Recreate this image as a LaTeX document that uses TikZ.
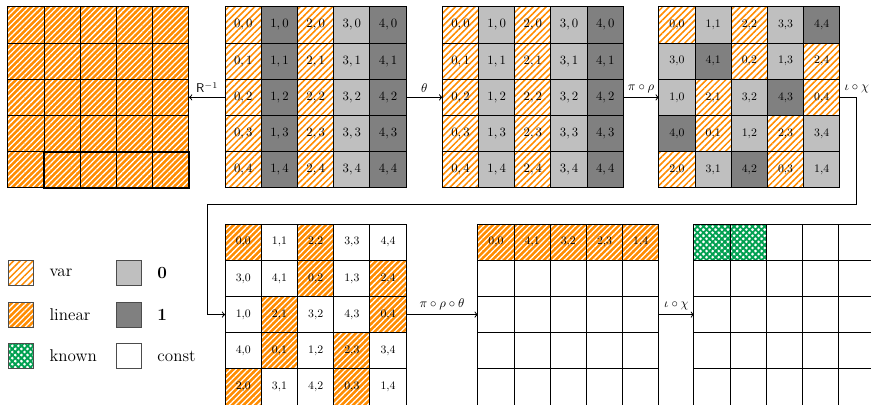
\documentclass[tikz,border=0pt]{standalone}
\usepackage{amsmath,amssymb}
\usetikzlibrary{patterns.meta,positioning,calc}

\definecolor{hatchorange}{RGB}{255,140,0}
\definecolor{knowngreen}{RGB}{0,160,80}

\tikzset{
  varcell/.style={preaction={fill=white},pattern={Lines[angle=45,distance=3.6pt,line width=1.2pt]},pattern color=hatchorange},
  lincell/.style={preaction={fill=hatchorange},pattern={Lines[angle=45,distance=3.2pt,line width=1pt]},pattern color=white},
  knowncell/.style={preaction={fill=white},preaction={pattern={Lines[angle=45,distance=3.4pt,line width=1.5pt]},pattern color=knowngreen},pattern={Lines[angle=-45,distance=3.4pt,line width=1.5pt]},pattern color=knowngreen},
  zerocell/.style={fill=gray!50},
  onecell/.style={fill=gray},
  constcell/.style={fill=white},
  gridbox/.style={minimum size=5cm,inner sep=0pt,outer sep=0pt},
  legbox/.style={draw=black!70,minimum size=.69cm,inner sep=0pt},
  legtext/.style={font=\fontsize{13.4}{16}\selectfont}
}

\begin{document}
\begin{tikzpicture}[thick]
    \useasboundingbox (0,0) rectangle (24.06,-11.16);
    \clip (0,0) rectangle (24.06,-11.16);

    \node[gridbox] (g1) at (2.72,-2.69) {};
    \node[gridbox] (g2) at (8.72,-2.69) {};
    \node[gridbox] (g3) at (14.72,-2.69) {};
    \node[gridbox] (g4) at (20.7,-2.69) {};
    \node[gridbox] (g5) at (8.72,-8.69) {};
    \node[gridbox] (g6) at (15.7,-8.69) {};
    \node[gridbox] (g7) at (21.67,-8.69) {};

    % state
    \foreach \c in {0,...,4} \foreach \r in {0,...,4}
      \draw[lincell] (0.22+\c,-0.19-\r) rectangle ++(1,-1);
    \draw[line width=1.6pt] (1.22,-4.19) rectangle (5.22,-5.19);

    \foreach \c/\s in {0/varcell,1/onecell,2/varcell,3/zerocell,4/onecell}
      \foreach \r in {0,...,4} {
        \draw[\s] (6.22+\c,-0.19-\r) rectangle ++(1,-1);
        \node (b\c\r) at (6.72+\c,-0.69-\r) {$\c,\r$};
      }

    \foreach \c/\s in {0/varcell,1/zerocell,2/varcell,3/zerocell,4/onecell}
      \foreach \r in {0,...,4} {
        \draw[\s] (12.22+\c,-0.19-\r) rectangle ++(1,-1);
        \node (t\c\r) at (12.72+\c,-0.69-\r) {$\c,\r$};
      }

    \foreach \c in {0,...,4} \foreach \r in {0,...,4} {
      \pgfmathtruncatemacro\a{mod(\c+3*\r,5)}
      \ifnum\a=4 \def\s{onecell}\else\ifodd\a\relax\def\s{zerocell}\else\def\s{varcell}\fi\fi
      \draw[\s] (18.2+\c,-0.19-\r) rectangle ++(1,-1);
      \node (p\c\r) at (18.7+\c,-0.69-\r) {\small\a,\c};
    }

    \foreach \c in {0,...,4} \foreach \r in {0,...,4} {
      \pgfmathtruncatemacro\a{mod(\c+3*\r,5)}
      \ifnum\a=4 \def\s{constcell}\else\ifodd\a\relax\def\s{constcell}\else\def\s{lincell}\fi\fi
      \draw[\s] (6.22+\c,-6.19-\r) rectangle ++(1,-1);
      \node (q\c\r) at (6.72+\c,-6.69-\r) {\small\a,\c};
    }

    \foreach \c in {0,...,4} {
      \pgfmathtruncatemacro\a{mod(5-\c,5)}
      \draw[lincell] (13.2+\c,-6.19) rectangle ++(1,-1);
      \node (x\c) at (13.7+\c,-6.69) {\small\a,\c};
      \foreach \r in {1,...,4}
        \draw[constcell] (13.2+\c,-6.19-\r) rectangle ++(1,-1);
    }

    \foreach \c in {0,...,4} \foreach \r in {0,...,4}
      \draw[constcell] (19.17+\c,-6.19-\r) rectangle ++(1,-1);
    \draw[knowncell] (19.17,-6.19) rectangle ++(1,-1);
    \draw[knowncell] (20.17,-6.19) rectangle ++(1,-1);

    % maps
    \coordinate (turn) at (23.67,-2.69);
    \coordinate (back) at (5.72,-5.64);
    \draw[->] (g2.west) -- node[above] {\textsf{R}$^{-1}$} (g1.east);
    \draw[->] (g2.east) -- node[above] {$\theta$} (g3.west);
    \draw[->] (g3.east) -- node[above] {$\pi\circ\rho$} (g4.west);
    \draw[->] (g4.east) -- (turn) node[above] {$\iota\circ\chi$} |- (back) |- (g5.west);
    \draw[->] (g5.east) -- node[above] {$\pi\circ\rho\circ\theta$} (g6.west);
    \draw[->] (g6.east) -- node[above] {$\iota\circ\chi$} (g7.west);

    % legend
    \node[legbox,varcell] (lvar) at (0.58,-7.54) {};
    \node[legbox,lincell] (llin) at (0.58,-8.70) {};
    \node[legbox,knowncell] (lknown) at (0.58,-9.83) {};
    \node[legbox,zerocell] (lzero) at (3.56,-7.54) {};
    \node[legbox,onecell] (lone) at (3.56,-8.70) {};
    \node[legbox,constcell] (lconst) at (3.56,-9.83) {};
    \node[legtext,right=.3cm of lvar] (tvar) {var};
    \node[legtext,right=.3cm of llin] (tlin) {linear};
    \node[legtext,right=.3cm of lknown] (tknown) {known};
    \node[legtext,right=.3cm of lzero] (tzero) {\textbf{0}};
    \node[legtext,right=.3cm of lone] (tone) {\textbf{1}};
    \node[legtext,right=.3cm of lconst] (tconst) {const};
\end{tikzpicture}
\end{document}
